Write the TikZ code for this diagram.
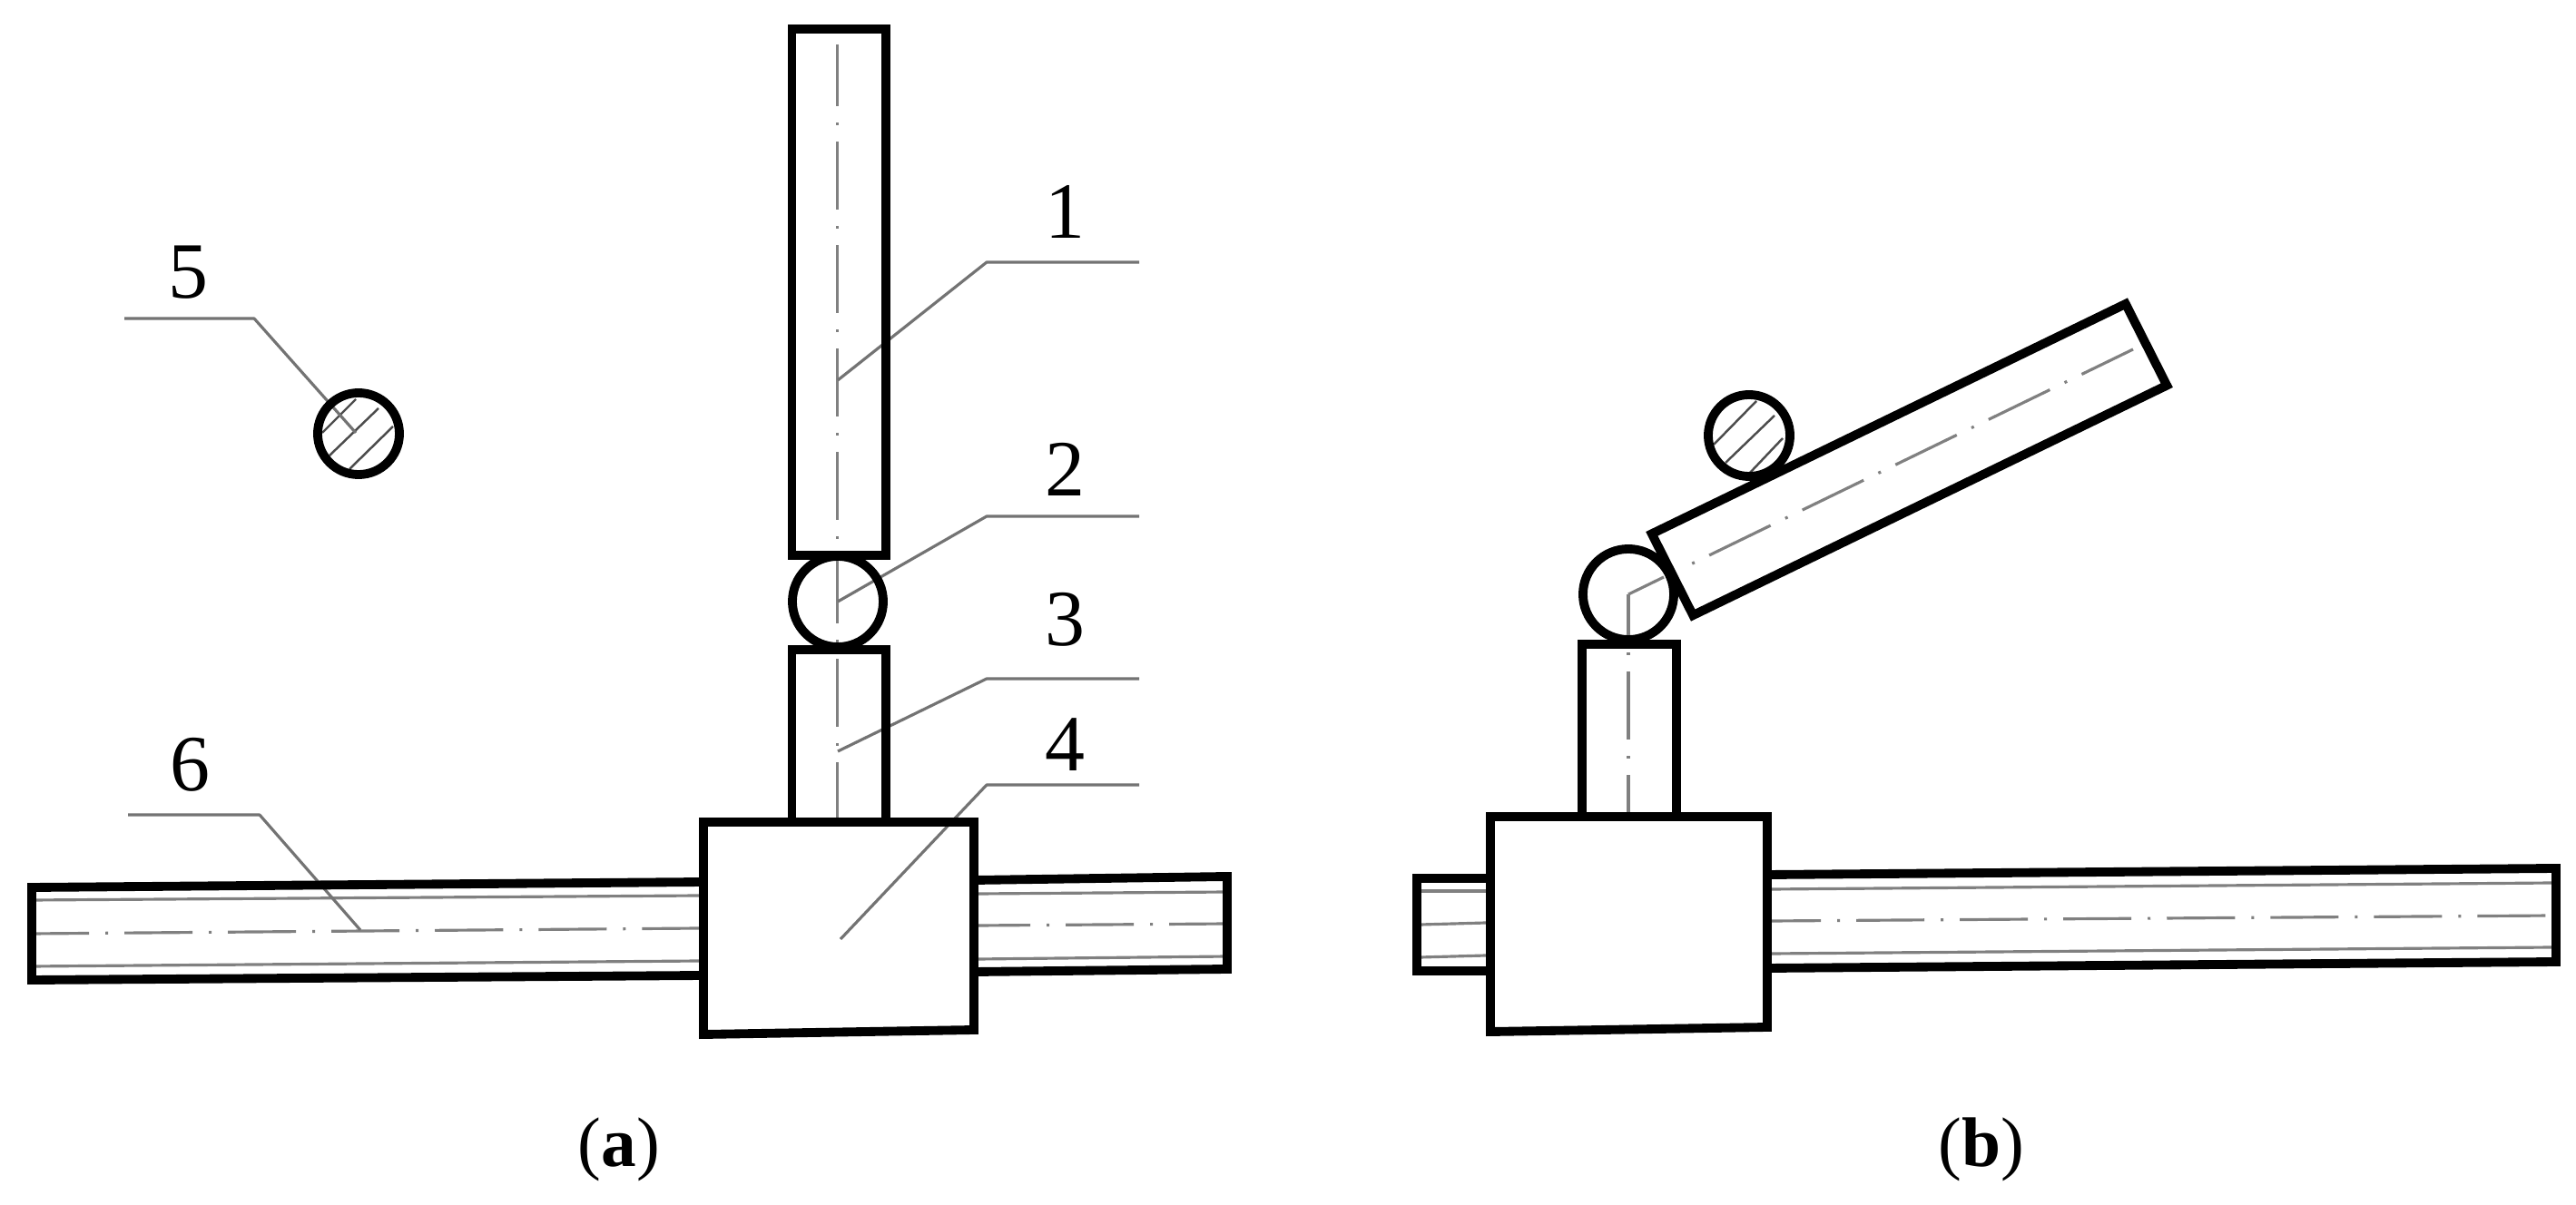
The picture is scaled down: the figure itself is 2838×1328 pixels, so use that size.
\documentclass[tikz,border=0pt]{standalone}
\usepackage{fontspec}
\setmainfont{Liberation Serif}
\tikzset{
  thick line/.style={line width=2.8pt,black,line join=miter},
  thin line/.style={line width=0.9pt,black!50},
  axis line/.style={line width=0.9pt,black!50,dash pattern=on 0.75cm off 0.18cm on 0.03cm off 0.18cm},
  leader/.style={line width=0.9pt,black!55,line join=round},
  hatch line/.style={line width=0.7pt,black!70},
  num/.style={font=\fontsize{25pt}{30pt}\selectfont,inner sep=0pt,anchor=base},
  captext/.style={font=\fontsize{22pt}{26pt}\selectfont,inner sep=0pt,anchor=base}
}
\begin{document}
\begin{tikzpicture}[x=0.01cm,y=-0.01cm]
\useasboundingbox[fill=white] (0,0) rectangle (2838,1328);
% leader ends
\coordinate (e1) at (923,419);
\coordinate (e2) at (923,663);
\coordinate (e3) at (923,828);
\coordinate (e4) at (926,1035);
\coordinate (e5) at (392,477);
\coordinate (e6) at (397,1025);
% --- (a) thin lines
\draw[axis line,dash phase=0.07cm] (922.5,49) -- (922.5,903);
\draw[thin line] (35,992) -- (770,987);
\draw[thin line] (35,1065) -- (770,1059);
\draw[axis line,dash phase=0.12cm] (35,1029) -- (770,1023);
\draw[thin line] (1078,985) -- (1352,983);
\draw[thin line] (1078,1057) -- (1352,1054);
\draw[axis line,dash phase=0.18cm] (1078,1020) -- (1352,1018);
% hatch a
\draw[hatch line] (355,477) -- (392,440);
\draw[hatch line] (363,502) -- (417,450);
\draw[hatch line] (385,517) -- (433,470);
% leaders
\draw[leader] (1255,289) -- (1087,289) -- (e1);
\draw[leader] (1255,569) -- (1087,569) -- (e2);
\draw[leader] (1255,748) -- (1087,748) -- (e3);
\draw[leader] (1255,865) -- (1087,865) -- (e4);
\draw[leader] (137,351) -- (280,351) -- (e5);
\draw[leader] (141,898) -- (286,898) -- (e6);
% (a) thick
\draw[thick line] (872.5,32) rectangle (976,612);
\draw[thick line] (923,663) circle[radius=0.5cm];
\draw[thick line] (872.5,906) -- (872.5,716) -- (976,716) -- (976,906);
\draw[thick line] (775,906) -- (1073,906) -- (1073,1135) -- (775,1140) -- cycle;
\draw[thick line] (775,972) -- (35,978) -- (35,1080) -- (775,1075);
\draw[thick line] (1073,970) -- (1352,966) -- (1352,1068) -- (1073,1071);
\draw[thick line] (395,478) circle[radius=0.45cm];
% --- (b) thin lines
\draw[thin line] (1794,655) -- (1833,636);
\draw[axis line,dash phase=0.75cm] (1848,629) -- (2350,385);
\draw[axis line,dash phase=0.29cm] (1794,655) -- (1794,900);
\draw[thin line] (1565,982) -- (1637,982);
\draw[thin line] (1565,1055) -- (1637,1053);
\draw[thin line] (1565,1019) -- (1637,1017);
\draw[thin line] (1952,980) -- (2812,973);
\draw[thin line] (1952,1051) -- (2812,1044);
\draw[axis line,dash phase=0.21cm] (1952,1015) -- (2812,1009);
\draw[hatch line] (1888,490) -- (1935,442);
\draw[hatch line] (1901,510) -- (1955,458);
\draw[hatch line] (1927,522) -- (1964,483);
% (b) thick
\draw[thick line] (1819.8,588.3) -- (2341.8,334.9) -- (2387.2,424.7) -- (1865.2,678.1) -- cycle;
\draw[thick line] (1794,655) circle[radius=0.5cm];
\draw[thick line] (1927,480) circle[radius=0.45cm];
\draw[thick line] (1743,900) -- (1743,710) -- (1847,710) -- (1847,900);
\draw[thick line] (1642,900) -- (1947,900) -- (1947,1132) -- (1642,1137) -- cycle;
\draw[thick line] (1642,968) -- (1561,968) -- (1561,1070) -- (1642,1070);
\draw[thick line] (1947,964) -- (2816,957) -- (2816,1060) -- (1947,1067);
% labels
\node[num] (n1) at (1173,263) {1};
\node[num] (n2) at (1173,547) {2};
\node[num] (n3) at (1173,712) {3};
\node[num] (n4) at (1173,850) {4};
\node[num] (n5) at (207,329) {5};
\node[num] (n6) at (209,872) {6};
\node[captext] (ca) at (682,1285) {(\textbf{a})};
\node[captext] (cb) at (2183,1285) {(\textbf{b})};
\end{tikzpicture}
\end{document}
